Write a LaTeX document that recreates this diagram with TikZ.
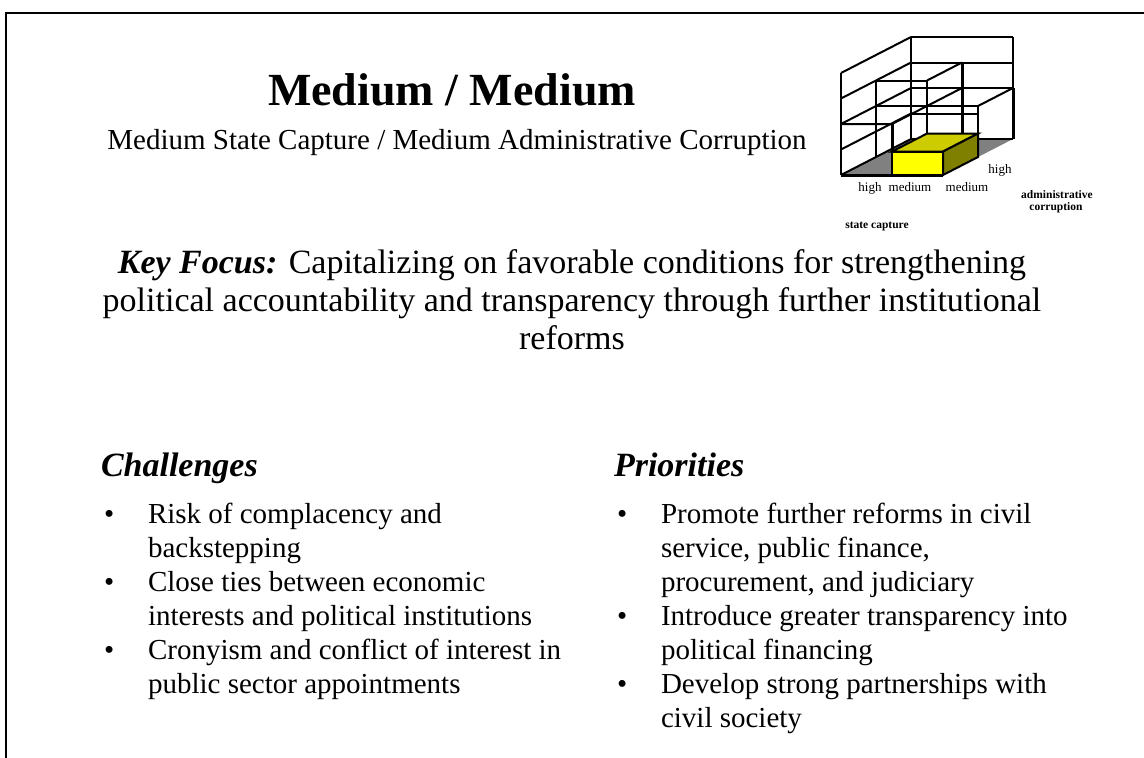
\documentclass[tikz,border=0pt]{standalone}
\usepackage{fontspec}
\setmainfont{Liberation Serif}
\definecolor{floorgray}{HTML}{808080}
\definecolor{yfront}{HTML}{FFFF00}
\definecolor{ytop}{HTML}{CCCC00}
\definecolor{yside}{HTML}{808000}
\begin{document}
\begin{tikzpicture}[x=1pt,y=-1pt,
  txt/.style={inner sep=0pt, outer sep=0pt},
  ttl/.style={txt, font=\fontsize{46}{50}\selectfont\bfseries, anchor=base},
  sub/.style={txt, font=\fontsize{29}{34}\selectfont, anchor=base},
  kf/.style={txt, font=\fontsize{34}{38}\selectfont, anchor=base},
  head/.style={txt, font=\fontsize{34}{38}\selectfont\bfseries\itshape, anchor=base west},
  item/.style={txt, font=\fontsize{29}{34}\selectfont, anchor=base west},
  lab/.style={txt, font=\fontsize{13}{15}\selectfont, anchor=base},
  blab/.style={txt, font=\fontsize{11.5}{13}\selectfont\bfseries, anchor=base},
  gridline/.style={line width=2pt},
  heavyedge/.style={line width=3pt},
  frameline/.style={line width=2pt}
]
\useasboundingbox (0,0) rectangle (1144,758);
\draw[frameline] (6,762) -- (6,13) -- (1148,13);

% ---------- 3D chart ----------
\begin{scope}[shift={(841pt,-175pt)}, x={(51pt,0pt)}, y={(35pt,18pt)}, z={(0pt,25.5pt)}]
  \fill[floorgray] (0,0,0) -- (2,0,0) -- (2,2,0) -- (0,2,0) -- cycle;
  % left wall
  \foreach \h in {1,2,3,4} \draw[gridline] (0,0,\h) -- (0,2,\h);
  \draw[gridline] (0,0,0) -- (0,2,0);
  \draw[gridline] (0,0,0) -- (0,0,4);
  % back wall
  \foreach \h in {0,2,3,4} \draw[gridline] (0,2,\h) -- (2,2,\h);
  \draw[gridline] (0,2,1) -- (1.3137,2,1);
  \draw[gridline] (0,2,0) -- (0,2,4);
  \draw[gridline] (2,2,0) -- (2,2,4);
  % box A (front left, height 2)
  \draw[gridline] (0,0,2) -- (1,0,2) -- (1,1,2);
  \draw[gridline] (0,1,2) -- (1,1,2);
  \draw[heavyedge] (1,0,0) -- (1,0,2);
  % box B (back left, height 3)
  \draw[gridline] (0,1,0) -- (0,1,3) -- (1,1,3) -- (1,1,0);
  \draw[gridline] (1,1,3) -- (1,2,3);
  \draw[heavyedge] (1,2,3) -- (1,2,0);
  % box C (back right, height 2)
  \draw[gridline] (1,1,2) -- (2,1,2) -- (2,1,0);
  \draw[gridline] (2,1,2) -- (2,2,2);
  \draw[gridline] (1,1,2) -- (1,2,2);
  \draw[heavyedge] (2,2,2) -- (2,2,0);
  % floor front edge
  \draw[heavyedge] (0,0,0) -- (2,0,0);
  % yellow box (front right)
  \filldraw[fill=yfront, gridline] (1,0,0) -- (2,0,0) -- (2,0,0.92) -- (1,0,0.92) -- cycle;
  \filldraw[fill=ytop, gridline] (1,0,0.92) -- (2,0,0.92) -- (2,1,0.92) -- (1,1,0.92) -- cycle;
  \filldraw[fill=yside, gridline] (2,0,0) -- (2,1,0) -- (2,1,0.92) -- (2,0,0.92) -- cycle;
\end{scope}

\node[lab] (lhighd) at (1000,173.5) {high};
\node[lab] (lhighx) at (870,191) {high};
\node[lab] (lmedx) at (910,191) {medium};
\node[lab] (lmedd) at (967,191) {medium};
\node[blab] (ladm1) at (1057,198.5) {administrative};
\node[blab] (ladm2) at (1056,210) {corruption};
\node[blab] (lsc) at (877,228) {state capture};

% ---------- titles ----------
\node[ttl] (title) at (452,105) {Medium / Medium};
\node[sub] (subtitle) at (457,149) {Medium State Capture / Medium Administrative Corruption};

\node[kf] (kf1) at (572,273) {\textbf{\textit{Key Focus:}} Capitalizing on favorable conditions for strengthening};
\node[kf] (kf2) at (572,311) {political accountability and transparency through further institutional};
\node[kf] (kf3) at (572,349) {reforms};

% ---------- challenges ----------
\node[head] (chal) at (101,476) {Challenges};
\node[item] (cb1) at (104,523) {•};
\node[item] (c1a) at (148,523) {Risk of complacency and};
\node[item] (c1b) at (148,557) {backstepping};
\node[item] (cb2) at (104,591) {•};
\node[item] (c2a) at (148,591) {Close ties between economic};
\node[item] (c2b) at (148,625) {interests and political institutions};
\node[item] (cb3) at (104,659) {•};
\node[item] (c3a) at (148,659) {Cronyism and conflict of interest in};
\node[item] (c3b) at (148,693) {public sector appointments};

% ---------- priorities ----------
\node[head] (prio) at (614,476) {Priorities};
\node[item] (pb1) at (617,523) {•};
\node[item] (p1a) at (661,523) {Promote further reforms in civil};
\node[item] (p1b) at (661,557) {service, public finance,};
\node[item] (p1c) at (661,591) {procurement, and judiciary};
\node[item] (pb2) at (617,625) {•};
\node[item] (p2a) at (661,625) {Introduce greater transparency into};
\node[item] (p2b) at (661,659) {political financing};
\node[item] (pb3) at (617,693) {•};
\node[item] (p3a) at (661,693) {Develop strong partnerships with};
\node[item] (p3b) at (661,727) {civil society};
\end{tikzpicture}
\end{document}
